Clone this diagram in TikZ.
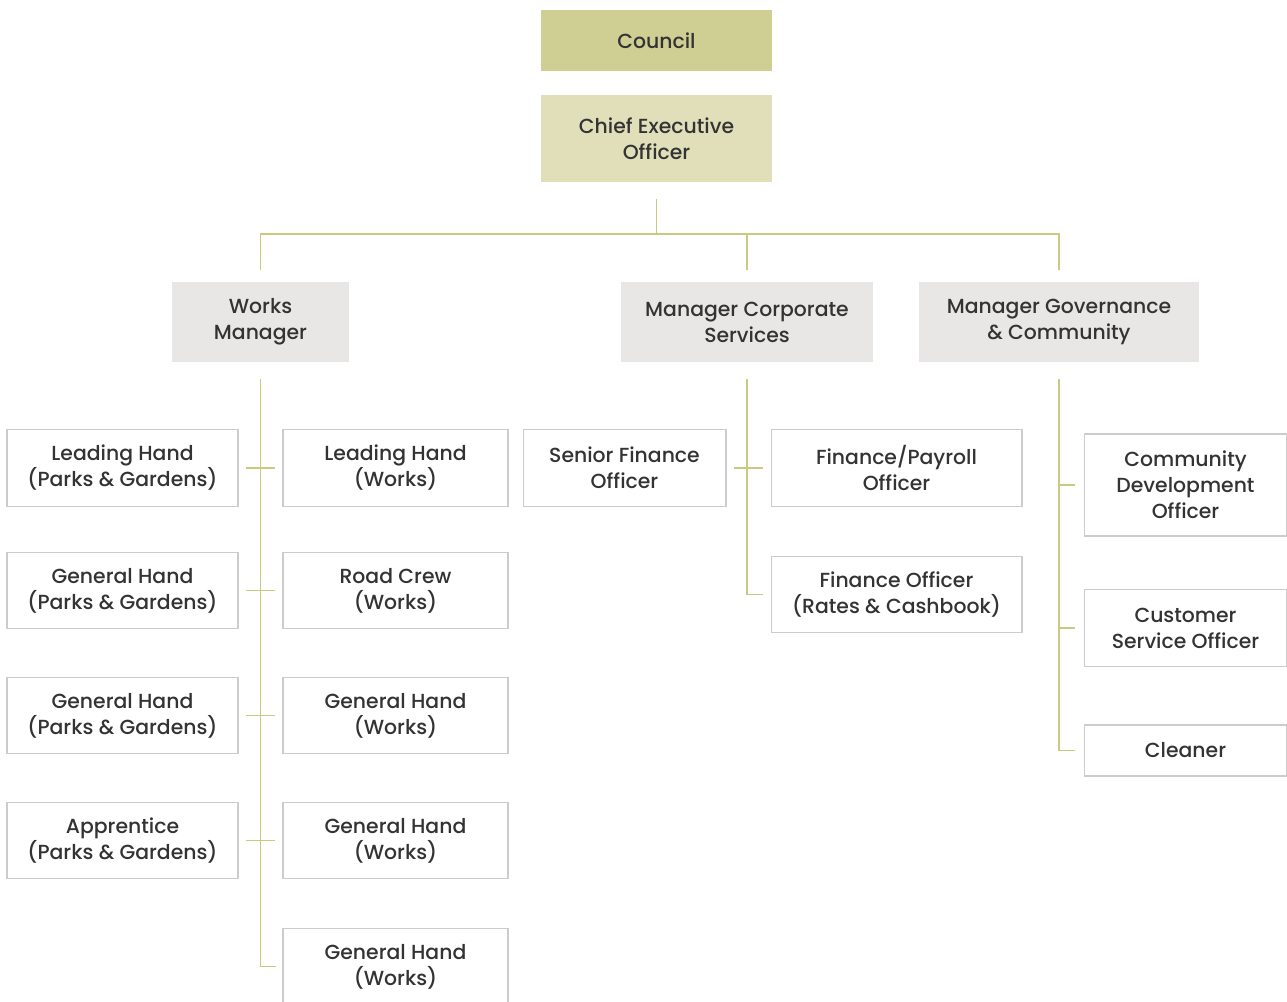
\documentclass[tikz,border=0pt]{standalone}
\usepackage{fontspec}
\setmainfont{Poppins}[UprightFont=* Medium, BoldFont=* SemiBold]
\usetikzlibrary{calc}

\definecolor{councilgreen}{HTML}{CFCE93}
\definecolor{ceogreen}{HTML}{E0DFBA}
\definecolor{mgrgrey}{HTML}{E8E7E6}
\definecolor{boxline}{HTML}{CCCCCC}
\definecolor{linkolive}{HTML}{C9C97F}
\definecolor{textgrey}{HTML}{333333}

\tikzset{
    orgbox/.style={rectangle, inner sep=0pt, align=center, text=textgrey,
        font=\fontsize{11.6}{14.8}\selectfont},
    councilbox/.style={orgbox, fill=councilgreen, minimum width=4.62cm, minimum height=1.22cm},
    ceobox/.style={orgbox, fill=ceogreen, minimum width=4.62cm, minimum height=1.74cm},
    mgrbox/.style={orgbox, fill=mgrgrey, minimum height=1.6cm},
    staffbox/.style={orgbox, draw=boxline, line width=0.6pt, fill=white, minimum height=1.53cm},
    link/.style={draw=linkolive, line width=0.8pt}
}

\begin{document}
\begin{tikzpicture}[x=0.02cm, y=-0.02cm]
    \useasboundingbox (0,0) rectangle (1287,1001);

    % top
    \node[councilbox] (council) at (656.5,40.5) {Council};
    \node[ceobox] (ceo) at (656.5,138.5) {Chief Executive\\Officer};

    % managers
    \node[mgrbox, minimum width=3.54cm] (works) at (260.5,322) {Works\\Manager};
    \node[mgrbox, minimum width=5.04cm] (corp) at (747,322) {Manager Corporate\\Services};
    \node[mgrbox, minimum width=5.6cm] (gov) at (1059,322) {Manager Governance\\\& Community};

    % works staff
    \node[staffbox, minimum width=4.62cm] (wl1) at (122.5,468) {Leading Hand\\(Parks \& Gardens)};
    \node[staffbox, minimum width=4.62cm] (wl2) at (122.5,590.5) {General Hand\\(Parks \& Gardens)};
    \node[staffbox, minimum width=4.62cm] (wl3) at (122.5,715.5) {General Hand\\(Parks \& Gardens)};
    \node[staffbox, minimum width=4.62cm] (wl4) at (122.5,840.5) {Apprentice\\(Parks \& Gardens)};
    \node[staffbox, minimum width=4.5cm] (wr1) at (395.5,468) {Leading Hand\\(Works)};
    \node[staffbox, minimum width=4.5cm] (wr2) at (395.5,590.5) {Road Crew\\(Works)};
    \node[staffbox, minimum width=4.5cm] (wr3) at (395.5,715.5) {General Hand\\(Works)};
    \node[staffbox, minimum width=4.5cm] (wr4) at (395.5,840.5) {General Hand\\(Works)};
    \node[staffbox, minimum width=4.5cm] (wr5) at (395.5,966.5) {General Hand\\(Works)};

    % corporate staff
    \node[staffbox, minimum width=4.06cm] (sfo) at (624.5,468) {Senior Finance\\Officer};
    \node[staffbox, minimum width=5.02cm] (fpo) at (896.5,468) {Finance/Payroll\\Officer};
    \node[staffbox, minimum width=5.02cm] (fro) at (896.5,594.5) {Finance Officer\\(Rates \& Cashbook)};

    % governance staff
    \node[staffbox, minimum width=4.05cm, minimum height=2.04cm] (cdo) at (1185.5,485) {Community\\Development\\Officer};
    \node[staffbox, minimum width=4.05cm] (cso) at (1185.5,628) {Customer\\Service Officer};
    \node[staffbox, minimum width=4.05cm, minimum height=1.02cm] (cln) at (1185.5,750.5) {Cleaner};

    % reporting lines
    \coordinate (bus) at (656.5,234);
    \draw[link] (ceo.south) ++(0,17) -- (bus);
    \draw[link] ($(works.north)+(0,-12)$) |- (bus) -| ($(gov.north)+(0,-12)$);
    \draw[link] ($(corp.north)+(0,-12)$) -- (corp.north |- bus);

    \draw[link, shorten >=0.14cm] ($(works.south)+(0,17)$) |- (wr5.west);
    \foreach \i in {1,...,4}
        \draw[link, shorten <=0.14cm, shorten >=0.16cm] (wl\i.east) -- (wr\i.west);

    \draw[link, shorten >=0.16cm] ($(corp.south)+(0,17)$) |- (fro.west);
    \draw[link, shorten <=0.14cm, shorten >=0.16cm] (sfo.east) -- (fpo.west);

    \draw[link, shorten >=0.18cm] ($(gov.south)+(0,17)$) |- (cln.west);
    \draw[link, shorten >=0.18cm] (cdo.west -| gov.south) -- (cdo.west);
    \draw[link, shorten >=0.18cm] (cso.west -| gov.south) -- (cso.west);
\end{tikzpicture}
\end{document}
